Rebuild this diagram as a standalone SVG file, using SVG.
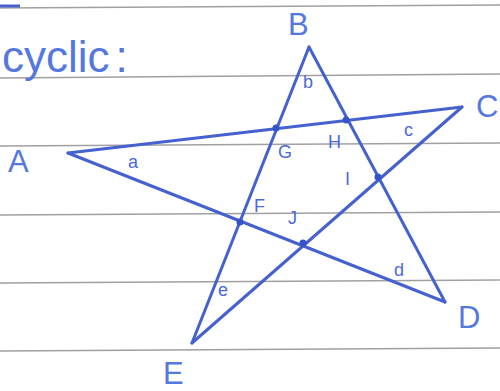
<svg xmlns="http://www.w3.org/2000/svg" width="500" height="391" viewBox="0 0 500 391">
<style>
.rule{stroke:#a0a0a0;stroke-width:1.6}
.edge{stroke:#4561d0;stroke-width:3;fill:none;stroke-linecap:round}
.dot{fill:#3553c4}
.big{font-family:"Liberation Sans",sans-serif;font-size:31px;fill:#5478e0}
.small{font-family:"Liberation Sans",sans-serif;font-size:18px;fill:#4a6ad8}
.title{font-family:"Liberation Sans",sans-serif;font-size:44px;fill:#5478e0}
</style>
<rect width="500" height="391" fill="#fff"/>
<g id="paper">
<line class="rule" x1="0" y1="8" x2="500" y2="5"/>
<line class="rule" x1="0" y1="78" x2="500" y2="74"/>
<line class="rule" x1="0" y1="146" x2="500" y2="143"/>
<line class="rule" x1="0" y1="215" x2="500" y2="212"/>
<line class="rule" x1="0" y1="283" x2="500" y2="280"/>
<line class="rule" x1="0" y1="351" x2="500" y2="348"/>
<line x1="0" y1="6" x2="20" y2="6" stroke="#4561d0" stroke-width="3"/>
<text class="title" x="2" y="72">cyclic<tspan dx="6">:</tspan></text>
</g>
<g id="connectors">
<line class="edge" x1="68" y1="153" x2="462" y2="107"/>
<line class="edge" x1="309" y1="47" x2="192" y2="343"/>
<line class="edge" x1="309" y1="47" x2="445" y2="302"/>
<line class="edge" x1="68" y1="153" x2="445" y2="302"/>
<line class="edge" x1="462" y1="107" x2="192" y2="343"/>
</g>
<g id="A"><text class="big" x="8" y="172">A</text><text class="small" x="128" y="168">a</text></g>
<g id="B"><text class="big" x="288" y="35">B</text><text class="small" x="303" y="88">b</text></g>
<g id="C"><text class="big" x="476" y="117">C</text><text class="small" x="404" y="136">c</text></g>
<g id="D"><text class="big" x="458" y="328">D</text><text class="small" x="394" y="276">d</text></g>
<g id="E"><text class="big" x="163" y="384">E</text><text class="small" x="218" y="296">e</text></g>
<g id="G"><circle class="dot" cx="276" cy="128" r="3.5"/><text class="small" x="278" y="158">G</text></g>
<g id="H"><circle class="dot" cx="346" cy="120" r="3.5"/><text class="small" x="328" y="148">H</text></g>
<g id="I"><circle class="dot" cx="378" cy="177" r="3.5"/><text class="small" x="345" y="185">I</text></g>
<g id="F"><circle class="dot" cx="240" cy="222" r="3.5"/><text class="small" x="254" y="212">F</text></g>
<g id="J"><circle class="dot" cx="303" cy="243" r="3.5"/><text class="small" x="288" y="224">J</text></g>
</svg>
